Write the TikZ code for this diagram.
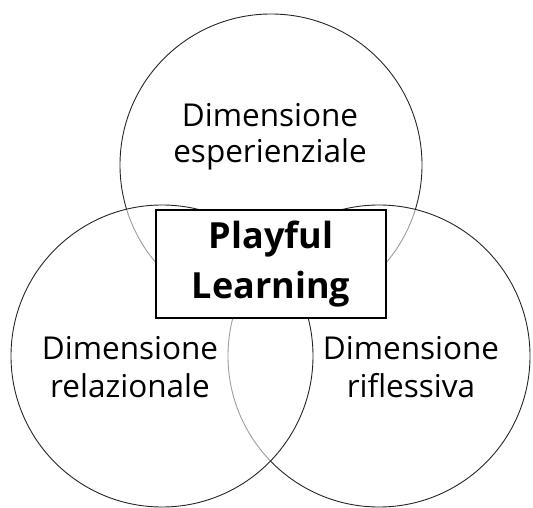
\documentclass[tikz,border=0pt]{standalone}
\usepackage{fontspec}
\setmainfont{Open Sans}
\begin{document}
\begin{tikzpicture}[x=1pt,y=-1pt,
  venn/.style={draw=black!85,line width=0.9pt,fill=white,fill opacity=0.55,text opacity=1},
  lbl/.style={font=\fontsize{31.5}{36}\selectfont,align=center,inner sep=0pt},
  mainbox/.style={draw=black,line width=1.6pt,fill=white,minimum width=230pt,minimum height=108pt,inner sep=0pt,align=center,font=\fontsize{36}{50}\selectfont\bfseries}]
\useasboundingbox (0,0) rectangle (533,508);
\path[venn] (271,165) circle[radius=151];
\path[venn] (379,356) circle[radius=151];
\path[venn] (162,356) circle[radius=151];
\node[mainbox] (pl) at (271,264) {Playful\\Learning};
\node[lbl,anchor=base] (t1) at (270,127) {Dimensione};
\node[lbl,anchor=base] (t2) at (270,163) {esperienziale};
\node[lbl,anchor=base] (l1) at (130,359) {Dimensione};
\node[lbl,anchor=base] (l2) at (130,397) {relazionale};
\node[lbl,anchor=base] (r1) at (411,359) {Dimensione};
\node[lbl,anchor=base] (r2) at (411,397) {riflessiva};
\end{tikzpicture}
\end{document}
